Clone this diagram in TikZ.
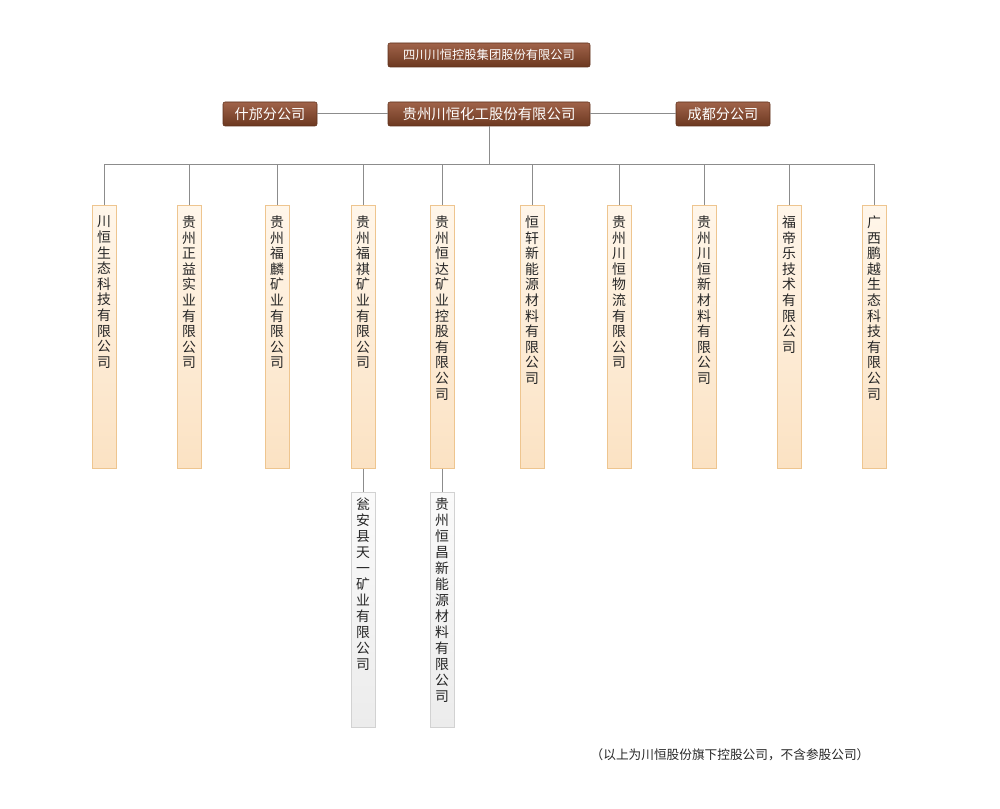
\documentclass[tikz,border=0pt]{standalone}
\usepackage{fontspec}
\setmainfont{Noto Sans CJK SC}
\XeTeXlinebreaklocale "zh"
\XeTeXlinebreakskip = 0pt plus 1pt
\definecolor{brownTop}{HTML}{A0634A}
\definecolor{brownBot}{HTML}{6C3820}
\definecolor{brownEdge}{HTML}{5E301B}
\definecolor{creamTop}{HTML}{FFF6EA}
\definecolor{creamBot}{HTML}{FBE2C3}
\definecolor{creamEdge}{HTML}{EEC58F}
\definecolor{greyTop}{HTML}{FAFAFA}
\definecolor{greyBot}{HTML}{ECECEC}
\definecolor{greyEdge}{HTML}{D2D2D2}
\definecolor{linkGrey}{HTML}{8C8C8C}
\definecolor{inkGrey}{HTML}{262626}
\begin{document}
\begin{tikzpicture}[
        x=0.75pt, y=-0.75pt,
        head/.style={draw=brownEdge, rounded corners=1.5pt, top color=brownTop, bottom color=brownBot,
            text=white, inner sep=0pt, minimum height=18pt},
        firm/.style={draw=creamEdge, top color=creamTop, bottom color=creamBot, anchor=north,
            minimum width=18pt, minimum height=197.25pt, inner sep=0pt},
        subfirm/.style={draw=greyEdge, top color=greyTop, bottom color=greyBot, anchor=north,
            minimum width=18pt, minimum height=176.25pt, inner sep=0pt},
        vtext/.style={anchor=north, yshift=-8pt, inner sep=0pt, text width=13pt, align=center,
            text=inkGrey, font=\fontsize{10.4}{11.7}\selectfont},
        subtext/.style={vtext, yshift=4pt, font=\fontsize{10.4}{12}\selectfont},
        link/.style={draw=linkGrey, line width=0.75pt},
        note/.style={text=inkGrey, font=\fontsize{9.5}{11}\selectfont}
    ]
        \useasboundingbox (0,0) rectangle (1000,809);

        % Group and company
        \node[head, minimum width=151.5pt, font=\fontsize{9.2}{11}\selectfont] (group) at (489,55) {四川川恒控股集团股份有限公司};
        \node[head, minimum width=151.5pt, font=\fontsize{10.8}{13}\selectfont] (chem) at (489,114) {贵州川恒化工股份有限公司};

        % Branches
        \node[head, minimum width=70.5pt, font=\fontsize{10.6}{13}\selectfont] (shifang) at (270,114) {什邡分公司};
        \node[head, minimum width=70.5pt, font=\fontsize{10.6}{13}\selectfont] (chengdu) at (723,114) {成都分公司};

        % Subsidiaries
        \node[firm, label={[vtext]north:川恒生态科技有限公司}] (f1) at (104,205) {};
        \node[firm, label={[vtext]north:贵州正益实业有限公司}] (f2) at (189,205) {};
        \node[firm, label={[vtext]north:贵州福麟矿业有限公司}] (f3) at (277,205) {};
        \node[firm, label={[vtext]north:贵州福祺矿业有限公司}] (f4) at (363,205) {};
        \node[firm, label={[vtext]north:贵州恒达矿业控股有限公司}] (f5) at (442,205) {};
        \node[firm, label={[vtext]north:恒轩新能源材料有限公司}] (f6) at (532,205) {};
        \node[firm, label={[vtext]north:贵州川恒物流有限公司}] (f7) at (619,205) {};
        \node[firm, label={[vtext]north:贵州川恒新材料有限公司}] (f8) at (704,205) {};
        \node[firm, label={[vtext]north:福帝乐技术有限公司}] (f9) at (789,205) {};
        \node[firm, label={[vtext]north:广西鹏越生态科技有限公司}] (f10) at (874,205) {};

        % Second level
        \node[subfirm, label={[subtext]north:瓮安县天一矿业有限公司}] (s1) at (363,492) {};
        \node[subfirm, label={[subtext]north:贵州恒昌新能源材料有限公司}] (s2) at (442,492) {};

        % Note
        \node[note] (note) at (730,755) {（以上为川恒股份旗下控股公司，不含参股公司）};

        % Links
        \coordinate (bus) at (489,165);
        \draw[link] (shifang) -- (chem);
        \draw[link] (chem) -- (chengdu);
        \draw[link] (chem.south) -- (bus);
        \draw[link] (bus) -| (f1.north);
        \draw[link] (bus) -| (f2.north);
        \draw[link] (bus) -| (f3.north);
        \draw[link] (bus) -| (f4.north);
        \draw[link] (bus) -| (f5.north);
        \draw[link] (bus) -| (f6.north);
        \draw[link] (bus) -| (f7.north);
        \draw[link] (bus) -| (f8.north);
        \draw[link] (bus) -| (f9.north);
        \draw[link] (bus) -| (f10.north);
        \draw[link] (f4.south) -- (s1.north);
        \draw[link] (f5.south) -- (s2.north);
    \end{tikzpicture}
\end{document}
